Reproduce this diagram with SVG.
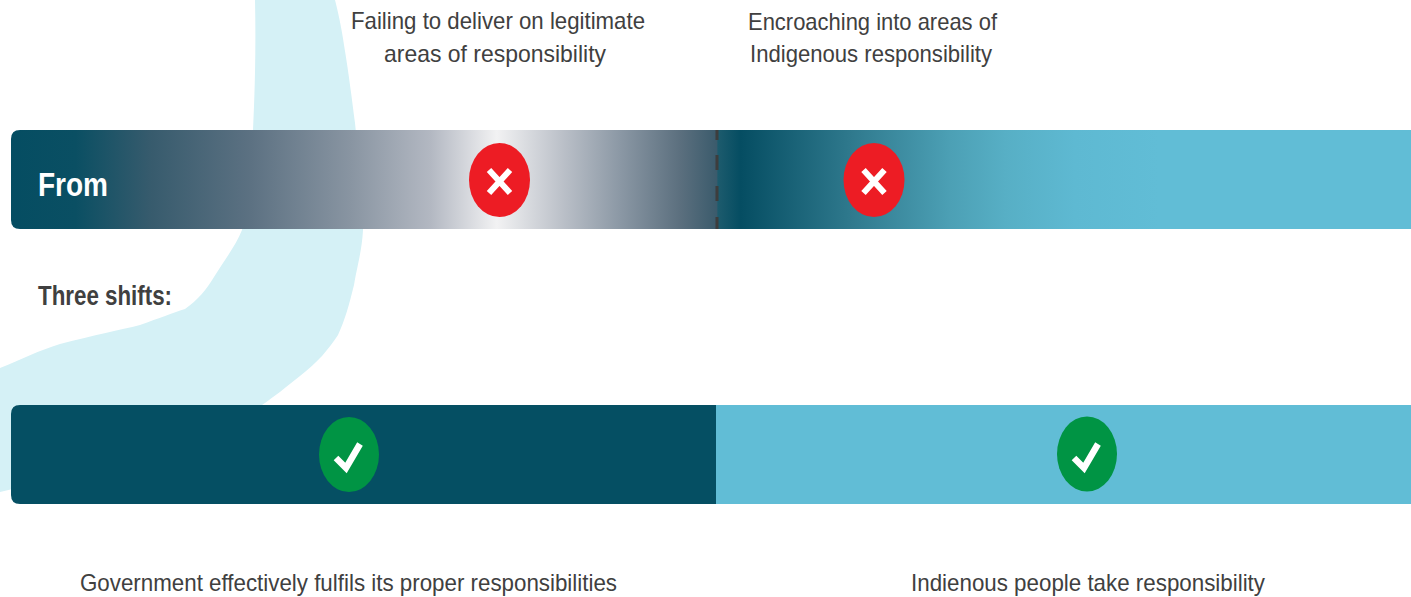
<svg xmlns="http://www.w3.org/2000/svg" width="1411" height="597" viewBox="0 0 1411 597">
  <style>
    .lbl { font-family: "Liberation Sans", Arial, sans-serif; font-size: 24px; fill: #404040; }
    .head { font-family: "Liberation Sans", Arial, sans-serif; font-weight: bold; }
    .xmark { stroke: #ffffff; stroke-width: 6; fill: none; }
    .tick { stroke: #ffffff; stroke-width: 6.5; fill: none; stroke-linejoin: miter; }
    .red { fill: #ed1c24; }
    .green { fill: #009444; }
  </style>
  <defs>
    <linearGradient id="fromGrad" gradientUnits="userSpaceOnUse" x1="11" y1="0" x2="1411" y2="0">
      <stop offset="0" stop-color="#054d62"/>
      <stop offset="0.046" stop-color="#0a4f63"/>
      <stop offset="0.1" stop-color="#375b6d"/>
      <stop offset="0.171" stop-color="#5c7182"/>
      <stop offset="0.243" stop-color="#8995a2"/>
      <stop offset="0.3" stop-color="#b3b8c2"/>
      <stop offset="0.347" stop-color="#f2f2f3"/>
      <stop offset="0.393" stop-color="#bcc1c9"/>
      <stop offset="0.436" stop-color="#8a97a4"/>
      <stop offset="0.478" stop-color="#5b6f7e"/>
      <stop offset="0.504" stop-color="#3b5b6c"/>
      <stop offset="0.505" stop-color="#1d5b6d"/>
      <stop offset="0.521" stop-color="#054d62"/>
      <stop offset="0.6" stop-color="#2f798d"/>
      <stop offset="0.671" stop-color="#4ca0b5"/>
      <stop offset="0.71" stop-color="#57afc5"/>
      <stop offset="0.76" stop-color="#5eb9d2"/>
      <stop offset="0.82" stop-color="#61bdd6"/>
      <stop offset="1" stop-color="#61bdd6"/>
    </linearGradient>
  </defs>

  <rect width="1411" height="597" fill="#ffffff"/>

  <!-- background river shape -->
  <path id="river" fill="#d5f1f6" d="M255,0 L335,0 C338,12 341,25 344,45 C349,75 352,100 355,123 C359,160 362,200 363,230 C362,250 358,262 354,285 C349,305 345,320 338,335 C328,350 318,362 300,376 C285,388 275,396 262,405 C200,440 120,465 0,492 L0,368 C20,360 40,350 60,344 C95,335 120,330 140,325 C160,318 172,313 185,309 C198,300 206,290 214,277 C226,258 236,245 242,230 C248,205 251,170 253,130 C255,90 256,45 255,0 Z"/>

  <!-- top labels -->
  <g id="label-failing">
    <text class="lbl" x="351" y="29" textLength="294" lengthAdjust="spacingAndGlyphs">Failing to deliver on legitimate</text>
    <text class="lbl" x="384" y="62" textLength="222" lengthAdjust="spacingAndGlyphs">areas of responsibility</text>
  </g>
  <g id="label-encroaching">
    <text class="lbl" x="748" y="30" textLength="249" lengthAdjust="spacingAndGlyphs">Encroaching into areas of</text>
    <text class="lbl" x="750" y="62" textLength="242" lengthAdjust="spacingAndGlyphs">Indigenous responsibility</text>
  </g>

  <!-- From bar -->
  <g id="from-bar">
    <path d="M20,130 L1411,130 L1411,229 L20,229 Q11,229 11,220 L11,139 Q11,130 20,130 Z" fill="url(#fromGrad)"/>
    <text class="head" x="38" y="196" font-size="33" fill="#ffffff" textLength="70" lengthAdjust="spacingAndGlyphs">From</text>
  </g>

  <g id="connectors">
    <line x1="717" y1="130" x2="717" y2="229" stroke="#3d3d3d" stroke-width="3" stroke-dasharray="10,15,15,16,15,16,15,16"/>
  </g>

  <g id="cross-left">
    <ellipse class="red" cx="499.5" cy="180" rx="30.5" ry="37"/>
    <path class="xmark" d="M489,170 L510,193 M510,170 L489,193"/>
  </g>
  <g id="cross-right">
    <ellipse class="red" cx="874" cy="180" rx="30.5" ry="37"/>
    <path class="xmark" d="M863.5,170 L884.5,193 M884.5,170 L863.5,193"/>
  </g>

  <g id="label-three-shifts">
    <text class="head" x="38" y="305" font-size="27" fill="#404040" textLength="134" lengthAdjust="spacingAndGlyphs">Three shifts:</text>
  </g>

  <!-- To bar -->
  <g id="to-bar-left">
    <path d="M20,405 L716,405 L716,504 L20,504 Q11,504 11,495 L11,414 Q11,405 20,405 Z" fill="#054f63"/>
  </g>
  <g id="to-bar-right">
    <rect x="716" y="405" width="695" height="99" fill="#61bdd6"/>
  </g>

  <g id="tick-left">
    <ellipse class="green" cx="349" cy="454.5" rx="30" ry="37.5"/>
    <path class="tick" d="M336,458 L346,468 L360,444"/>
  </g>
  <g id="tick-right">
    <ellipse class="green" cx="1087" cy="454" rx="30" ry="37.5"/>
    <path class="tick" d="M1074,458 L1084,468 L1098,444"/>
  </g>

  <!-- bottom labels -->
  <g id="label-government">
    <text class="lbl" x="80" y="591" font-size="25" textLength="537" lengthAdjust="spacingAndGlyphs">Government effectively fulfils its proper responsibilities</text>
  </g>
  <g id="label-indigenous">
    <text class="lbl" x="911" y="591" font-size="25" textLength="354" lengthAdjust="spacingAndGlyphs">Indienous people take responsibility</text>
  </g>
</svg>
